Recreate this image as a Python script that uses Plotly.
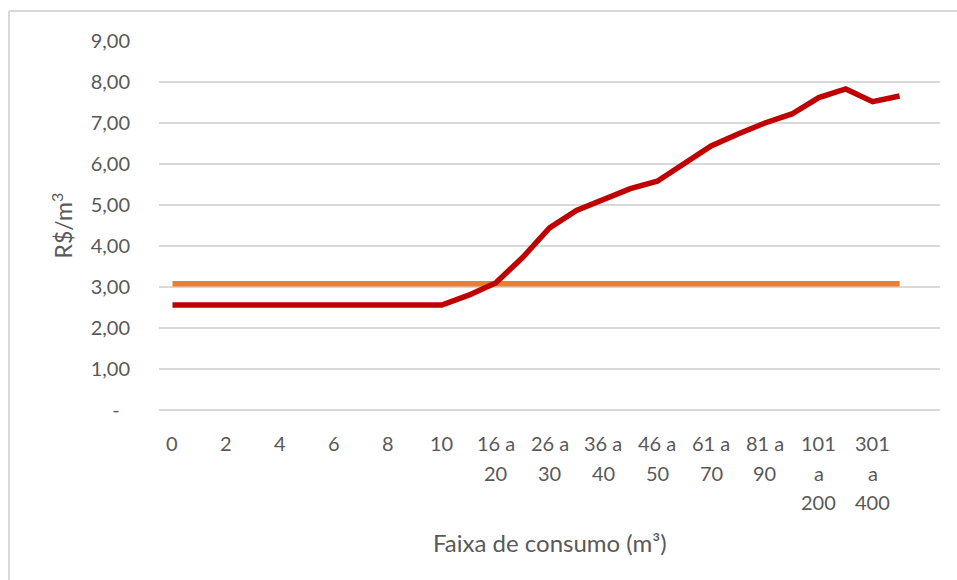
import plotly.graph_objects as go

# Faixas de consumo (m³)
categorias = [str(i) for i in range(11)] + [
    "11 a 15", "16 a 20", "21 a 25", "26 a 30", "31 a 35", "36 a 40",
    "41 a 45", "46 a 50", "51 a 60", "61 a 70", "71 a 80", "81 a 90",
    "91 a 100", "101 a 200", "201 a 300", "301 a 400", "acima de 400",
]

# Tarifa média progressiva (R$/m³)
tarifa_progressiva = [2.56] * 11 + [
    2.80, 3.10, 3.72, 4.44, 4.87, 5.15, 5.40, 5.58, 6.00,
    6.44, 6.73, 7.00, 7.22, 7.62, 7.83, 7.52, 7.66,
]

# Tarifa única (R$/m³)
tarifa_unica = [3.08] * len(categorias)

y_ticks = list(range(10))
y_ticktext = ["-\u00a0\u00a0"] + [f"{v},00" for v in range(1, 10)]

FONT = "Lato"
GREY_TXT = "#595959"
GRID = "#d9d9d9"

W, H = 957, 580
ML, MR, MT, MB = 159, 17, 41, 170

fig = go.Figure()
fig.add_trace(go.Scatter(
    x=categorias, y=tarifa_unica, mode="lines",
    line=dict(color="#ED7D31", width=5.5), hoverinfo="skip",
))
fig.add_trace(go.Scatter(
    x=categorias, y=tarifa_progressiva, mode="lines",
    line=dict(color="#C00000", width=5.5), hoverinfo="skip",
))


def wrap(label):
    if " a " not in label:
        return [label]
    a, b = label.split(" a ", 1)
    if len(a) <= 2:
        return [a + " a", b]
    return [a, "a", b]


annotations = []
for i, lab in enumerate(categorias):
    if i % 2:
        continue
    for k, line in enumerate(wrap(lab)):
        annotations.append(dict(
            x=lab, y=0, xref="x", yref="paper", text=line, showarrow=False,
            xanchor="center", yanchor="middle", yshift=-(33 + 29.5 * k),
            font=dict(family=FONT, size=20, color=GREY_TXT),
        ))

annotations.append(dict(
    x=0.5, y=0, xref="paper", yref="paper", text="Faixa de consumo (m³)",
    showarrow=False, xanchor="center", yanchor="middle", yshift=-132,
    font=dict(family=FONT, size=24, color=GREY_TXT),
))
annotations.append(dict(
    x=0, y=0.5, xref="paper", yref="paper", text="R$/m<sup>3</sup>",
    showarrow=False, xanchor="center", yanchor="middle", xshift=-97,
    textangle=-90, font=dict(family=FONT, size=23, color=GREY_TXT),
))

pw, ph = W - ML - MR, H - MT - MB


def px_x(p):
    return (p - ML) / pw


def px_y(p):
    return (H - MB - p) / ph


shapes = [
    dict(type="line", xref="paper", yref="paper",
         x0=px_x(9), x1=px_x(9), y0=px_y(11), y1=px_y(600),
         line=dict(color=GRID, width=2)),
    dict(type="line", xref="paper", yref="paper",
         x0=px_x(9), x1=px_x(980), y0=px_y(11), y1=px_y(11),
         line=dict(color=GRID, width=2)),
]

fig.update_layout(
    width=W, height=H,
    margin=dict(l=ML, r=MR, t=MT, b=MB),
    paper_bgcolor="white", plot_bgcolor="white",
    showlegend=False,
    xaxis=dict(
        type="category", categoryorder="array", categoryarray=categorias,
        range=[-0.5, len(categorias) + 0.5],
        showgrid=False, zeroline=False, showline=False,
        showticklabels=False, ticks="",
    ),
    yaxis=dict(
        range=[0, 9], tickvals=y_ticks, ticktext=y_ticktext,
        showgrid=True, gridcolor=GRID, gridwidth=1.5,
        zeroline=True, zerolinecolor=GRID, zerolinewidth=1.5,
        showline=False, ticks="outside", ticklen=24,
        tickcolor="rgba(0,0,0,0)",
        tickfont=dict(family=FONT, size=20, color=GREY_TXT),
    ),
    annotations=annotations,
    shapes=shapes,
)

fig.write_html("out.html")
